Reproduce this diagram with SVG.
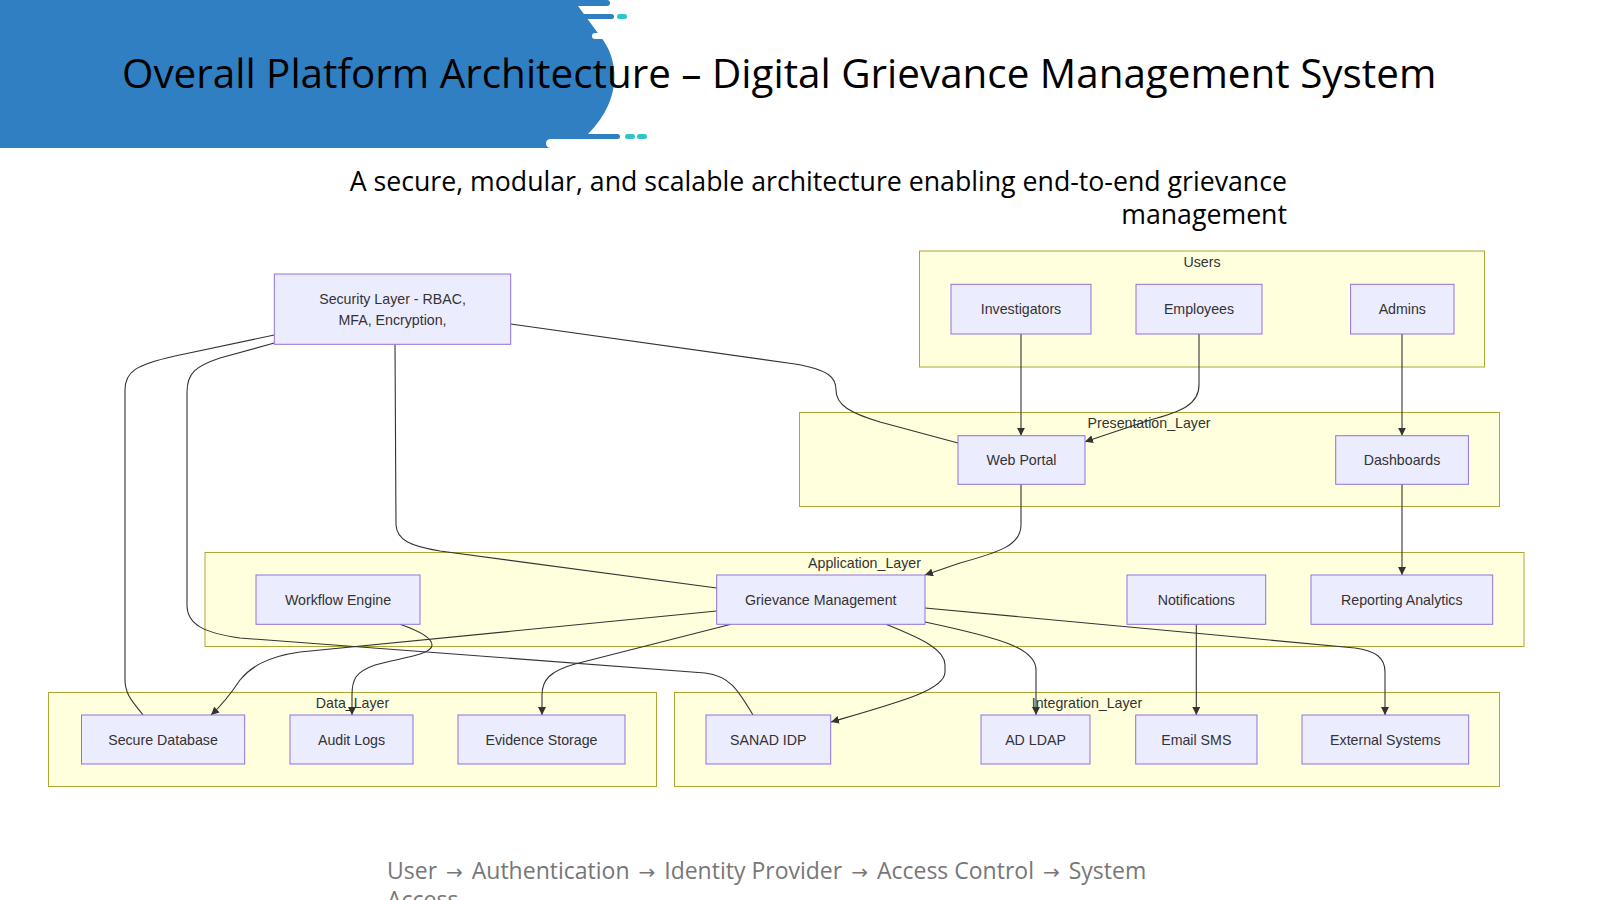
<svg xmlns="http://www.w3.org/2000/svg" width="1600" height="900" viewBox="0 0 1600 900">
<defs>
<style>
.cl{fill:#ffffde;stroke:#aaaa33;stroke-width:1}
.nd{fill:#ececff;stroke:#9370db;stroke-width:1}
.nt{font-family:"Liberation Sans",Arial,sans-serif;font-size:14.2px;fill:#333;text-anchor:middle}
.ct{font-family:"Liberation Sans",Arial,sans-serif;font-size:14.2px;fill:#333;text-anchor:middle}
.e{fill:none;stroke:#333;stroke-width:1.1}
.ea{fill:none;stroke:#333;stroke-width:1.1;marker-end:url(#arr)}
.ar{font-family:"DejaVu Sans",sans-serif;font-size:20px}
</style>
<marker id="arr" viewBox="0 0 10 10" refX="10" refY="5" markerUnits="userSpaceOnUse" markerWidth="8" markerHeight="8" orient="auto">
<path d="M0,0 L10,5 L0,10 z" fill="#333"/>
</marker>
</defs>
<rect width="1600" height="900" fill="#ffffff"/>
<g id="header">
<path d="M0,0 H607 A3,3 0 0 1 607,6 H578 L600,36 C620,60 622,100 588,134 L588,148 H0 Z" fill="#2f7fc2"/>
<rect x="580" y="14" width="34" height="5" rx="2.5" fill="#2f7fc2"/>
<rect x="617" y="14" width="10" height="5" rx="2.5" fill="#2ec4cc"/>
<rect x="592" y="33" width="18" height="6" rx="3" fill="#ffffff"/>
<rect x="560" y="134" width="60" height="5" rx="2.5" fill="#2f7fc2"/>
<rect x="625" y="134" width="10" height="5" rx="2.5" fill="#2ec4cc"/>
<rect x="637" y="134" width="10" height="5" rx="2.5" fill="#2ec4cc"/>
<rect x="546" y="139" width="60" height="9" rx="4.5" fill="#ffffff"/>
<text x="122" y="88" font-family="Open Sans, sans-serif" font-size="40.4" fill="#000">Overall Platform Architecture – Digital Grievance Management System</text>
</g>
<g id="subtitle" font-family="Open Sans, sans-serif" font-size="26.7" fill="#000" text-anchor="end">
<text x="1287" y="191">A secure, modular, and scalable architecture enabling end-to-end grievance</text>
<text x="1287" y="224">management</text>
</g>
<g id="clusters">
<g id="Users"><rect class="cl" x="919.5" y="251" width="565" height="116"/><text class="ct" x="1202" y="267">Users</text></g>
<g id="Presentation_Layer"><rect class="cl" x="799.5" y="412.5" width="700" height="94"/><text class="ct" x="1149" y="428">Presentation_Layer</text></g>
<g id="Application_Layer"><rect class="cl" x="205" y="552.5" width="1319" height="94"/><text class="ct" x="864.5" y="568">Application_Layer</text></g>
<g id="Data_Layer"><rect class="cl" x="48.5" y="692.5" width="608" height="94"/><text class="ct" x="352.5" y="708">Data_Layer</text></g>
<g id="Integration_Layer"><rect class="cl" x="674.5" y="692.5" width="825" height="94"/><text class="ct" x="1087" y="708">Integration_Layer</text></g>
</g>
<g id="connectors">
<path class="e" d="M510.7,324 L795,364 C830,370 836,378 836,390 C836,405 850,413 880,422 L958,443"/>
<path class="e" d="M395,344.3 L396,525 C397,540 410,546 440,551 L716.7,588"/>
<path class="e" d="M274.3,335 L175,356 C135,365 125,372 125,390 L125,680 C125,697 137,706 143,715"/>
<path class="e" d="M274.3,343 L220,358 C196,366 187,373 187,392 L187,605 C187,625 205,633 240,638 L705,673 C730,676 738,690 753,715"/>
<path class="ea" d="M1021,334 L1021,435.7"/>
<path class="ea" d="M1199,334 L1199,385 C1199,405 1180,412 1150,420 L1085,441.7"/>
<path class="ea" d="M1402,334 L1402,435.7"/>
<path class="ea" d="M1021,484.3 L1021,525 C1021,545 1000,552 960,563 L925,575"/>
<path class="ea" d="M1402,484.3 L1402,575"/>
<path class="ea" d="M716.7,611 L300,652 C265,657 250,668 240,680 C230,695 222,705 211,715"/>
<path class="ea" d="M400,624.3 C425,633 432,640 432,645 C432,655 400,658 375,665 C355,672 352,680 352,695 L352,715"/>
<path class="ea" d="M731,624.3 L575,664 C550,671 542,680 542,695 L542,715"/>
<path class="ea" d="M886,624.3 C925,640 945,650 945,665 L945,672 C945,690 900,702 831,722"/>
<path class="ea" d="M925,622 C1000,638 1036,648 1036,670 L1036,715"/>
<path class="ea" d="M925,608 L1355,648 C1375,651 1385,657 1385,672 L1385,715"/>
<path class="ea" d="M1196.3,624.3 L1196.3,715"/>
</g>
<g id="Security"><rect class="nd" x="274.3" y="274" width="236.4" height="70.3"/><text class="nt" x="392.5" y="304">Security Layer - RBAC,</text><text class="nt" x="392.5" y="325">MFA, Encryption,</text></g>
<g id="Investigators"><rect class="nd" x="951" y="284.3" width="140" height="49.7"/><text class="nt" x="1021" y="314">Investigators</text></g>
<g id="Employees"><rect class="nd" x="1136" y="284.3" width="126" height="49.7"/><text class="nt" x="1199" y="314">Employees</text></g>
<g id="Admins"><rect class="nd" x="1350.6" y="284.3" width="103.4" height="49.7"/><text class="nt" x="1402.3" y="314">Admins</text></g>
<g id="WebPortal"><rect class="nd" x="958" y="435.7" width="127" height="48.6"/><text class="nt" x="1021.5" y="465">Web Portal</text></g>
<g id="Dashboards"><rect class="nd" x="1335.7" y="435.7" width="132.7" height="48.6"/><text class="nt" x="1402" y="465">Dashboards</text></g>
<g id="WorkflowEngine"><rect class="nd" x="256" y="575" width="164" height="49.3"/><text class="nt" x="338" y="604.5">Workflow Engine</text></g>
<g id="GrievanceManagement"><rect class="nd" x="716.7" y="575" width="208.3" height="49.3"/><text class="nt" x="820.8" y="604.5">Grievance Management</text></g>
<g id="Notifications"><rect class="nd" x="1127" y="575" width="138.7" height="49.3"/><text class="nt" x="1196.3" y="604.5">Notifications</text></g>
<g id="ReportingAnalytics"><rect class="nd" x="1311" y="575" width="181.7" height="49.3"/><text class="nt" x="1401.8" y="604.5">Reporting Analytics</text></g>
<g id="SecureDatabase"><rect class="nd" x="81.5" y="715" width="163.2" height="49"/><text class="nt" x="163" y="744.5">Secure Database</text></g>
<g id="AuditLogs"><rect class="nd" x="290" y="715" width="123" height="49"/><text class="nt" x="351.5" y="744.5">Audit Logs</text></g>
<g id="EvidenceStorage"><rect class="nd" x="458" y="715" width="167" height="49"/><text class="nt" x="541.5" y="744.5">Evidence Storage</text></g>
<g id="SANADIDP"><rect class="nd" x="706" y="715" width="124.7" height="49"/><text class="nt" x="768.3" y="744.5">SANAD IDP</text></g>
<g id="ADLDAP"><rect class="nd" x="981" y="715" width="109" height="49"/><text class="nt" x="1035.5" y="744.5">AD LDAP</text></g>
<g id="EmailSMS"><rect class="nd" x="1135.7" y="715" width="121.3" height="49"/><text class="nt" x="1196.3" y="744.5">Email SMS</text></g>
<g id="ExternalSystems"><rect class="nd" x="1302" y="715" width="166.7" height="49"/><text class="nt" x="1385.3" y="744.5">External Systems</text></g>
<g id="footer" font-family="Open Sans, sans-serif" font-size="23" fill="#777777">
<text x="387" y="879">User <tspan class="ar" dx="3">→</tspan><tspan dx="3"> Authentication </tspan><tspan class="ar" dx="3">→</tspan><tspan dx="3"> Identity Provider </tspan><tspan class="ar" dx="3">→</tspan><tspan dx="3"> Access Control </tspan><tspan class="ar" dx="3">→</tspan><tspan dx="3"> System</tspan></text>
<text x="387" y="908">Access</text>
</g>
</svg>
